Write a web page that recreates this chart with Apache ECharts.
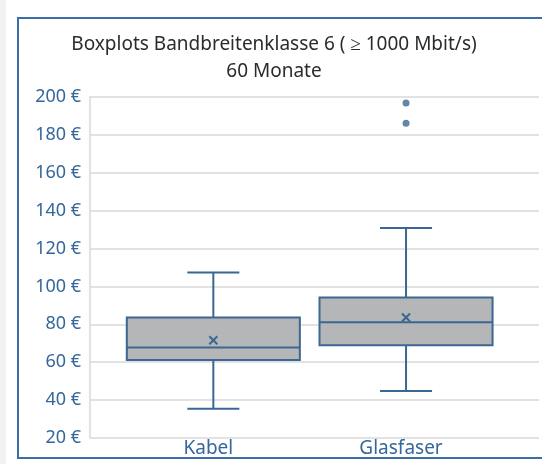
<!DOCTYPE html>
<html><head><meta charset="utf-8">
<script src="https://cdn.jsdelivr.net/npm/echarts@6/dist/echarts.min.js"></script>
<style>html,body{margin:0;padding:0;background:#fff;}#c{width:542px;height:464px;}</style>
</head><body><div id="c"></div>
<script>
const categories = ['Kabel', 'Glasfaser'];
// [lowerWhisker, Q1, median, Q3, upperWhisker]
const boxKabel = [35.5, 61.2, 67.8, 83.6, 107.4];
const boxGlasfaser = [44.8, 69.0, 81.1, 94.2, 130.9];
const means = [71.6, 83.6];
const outliersGlasfaser = [196.8, 186.2];
const yTicks = [20, 200, 20]; // min, max, step

const boxes = [boxKabel, boxGlasfaser];
const boxData = boxes.map((b, i) => [i].concat(b));
const outlierData = outliersGlasfaser.map(v => [1, v]);
const meanData = means.map((v, i) => [i, v]);

const BLUE = '#3b6792';
const FILL = '#b4b6b7';
const LABEL = '#35679a';

const chart = echarts.init(document.getElementById('c'), null, {renderer: 'canvas'});
chart.setOption({
  animation: false,
  backgroundColor: '#fff',
  graphic: [
    {type: 'rect', shape: {x: 0, y: 0, width: 6, height: 464}, style: {fill: '#f2f2f2'}, z: -10},
    {type: 'rect', shape: {x: 18, y: 18, width: 600, height: 440}, style: {fill: 'none', stroke: '#3a6ea6', lineWidth: 2}, z: -10}
  ],
  title: {
    text: 'Boxplots Bandbreitenklasse 6 ( ≥ 1000 Mbit/s)\n60 Monate',
    left: 269, top: 26, textAlign: 'center',
    textStyle: {fontFamily: 'Noto Sans', fontSize: 19, fontWeight: 'normal', color: '#2b2b2b', lineHeight: 27}
  },
  grid: {left: 90, right: 3, top: 97, bottom: 26},
  xAxis: {
    type: 'value', min: -0.64, max: 1.69,
    splitLine: {show: false},
    axisLine: {show: false},
    axisTick: {show: false},
    axisLabel: {
      customValues: [0, 1],
      formatter: v => categories[Math.round(v)] || '',
      color: LABEL, fontSize: 19, fontFamily: 'Noto Sans', margin: 1,
      padding: [0, 10, 0, 0]
    }
  },
  yAxis: {
    type: 'value', min: yTicks[0], max: yTicks[1], interval: yTicks[2],
    axisLine: {show: true, onZero: false, lineStyle: {color: '#d9d9d9', width: 1.5}},
    axisTick: {show: false},
    splitLine: {lineStyle: {color: '#d9d9d9', width: 1.5}},
    axisLabel: {formatter: '{value} €', color: LABEL, fontSize: 18, fontFamily: 'Noto Sans', margin: 9}
  },
  series: [
    {
      type: 'custom',
      data: boxData,
      encode: {x: 0, y: [1, 2, 3, 4, 5]},
      renderItem: function (params, api) {
        const x = api.value(0);
        const unit = api.size([1, 0])[0];
        const half = 0.449 * unit;
        const cap = 0.135 * unit;
        const p = k => api.coord([x, api.value(k)]);
        const lo = p(1), q1 = p(2), med = p(3), q3 = p(4), hi = p(5);
        const cx = lo[0];
        const ls = {stroke: BLUE, lineWidth: 2, fill: 'none'};
        return {
          type: 'group',
          children: [
            {type: 'line', shape: {x1: cx, y1: hi[1], x2: cx, y2: q3[1]}, style: ls},
            {type: 'line', shape: {x1: cx, y1: q1[1], x2: cx, y2: lo[1]}, style: ls},
            {type: 'line', shape: {x1: cx - cap, y1: hi[1], x2: cx + cap, y2: hi[1]}, style: ls},
            {type: 'line', shape: {x1: cx - cap, y1: lo[1], x2: cx + cap, y2: lo[1]}, style: ls},
            {type: 'rect', shape: {x: cx - half, y: q3[1], width: 2 * half, height: q1[1] - q3[1]}, style: {fill: FILL, stroke: BLUE, lineWidth: 2}},
            {type: 'line', shape: {x1: cx - half, y1: med[1], x2: cx + half, y2: med[1]}, style: ls}
          ]
        };
      },
      z: 2
    },
    {
      type: 'custom',
      data: meanData,
      encode: {x: 0, y: 1},
      renderItem: function (params, api) {
        const c = api.coord([api.value(0), api.value(1)]);
        const s = 4;
        const ls = {stroke: BLUE, lineWidth: 2};
        return {type: 'group', children: [
          {type: 'line', shape: {x1: c[0] - s, y1: c[1] - s, x2: c[0] + s, y2: c[1] + s}, style: ls},
          {type: 'line', shape: {x1: c[0] - s, y1: c[1] + s, x2: c[0] + s, y2: c[1] - s}, style: ls}
        ]};
      },
      z: 3
    },
    {
      type: 'scatter',
      data: outlierData,
      symbol: 'circle', symbolSize: 7,
      itemStyle: {color: BLUE},
      z: 3
    }
  ]
});
</script></body></html>
